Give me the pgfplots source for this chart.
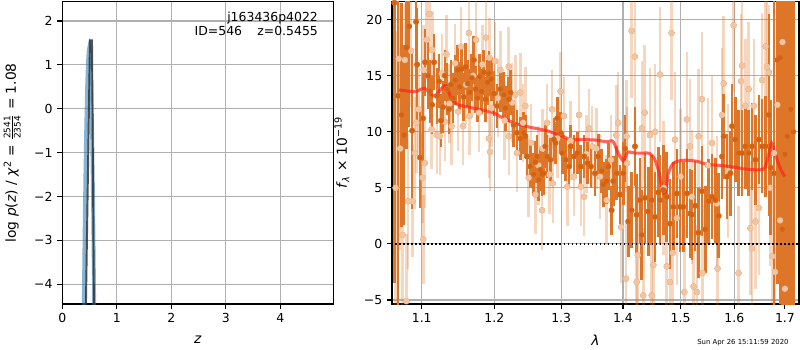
\documentclass[border=0pt]{standalone}
\usepackage{fontspec}
\setmainfont{DejaVu Sans}
\usepackage{pgfplots}
\usepackage{pgfplotstable}
\pgfplotsset{compat=1.18}
\definecolor{dk}{RGB}{212,98,16}
\definecolor{dkbar}{RGB}{222,118,42}
\definecolor{lt}{RGB}{220,110,30}
\definecolor{ltmark}{RGB}{241,196,162}
\definecolor{gridc}{RGB}{176,176,176}
\definecolor{pzblue}{RGB}{31,119,180}
\definecolor{modelred}{RGB}{255,35,25}

\pgfplotstableread{
x y e
1.0645 21.5 25
1.0692 13.2 22
1.0740 11.5 10
1.0770 9.7 8
1.0800 17.5 9
1.0835 19.4 9
1.0874 10.1 7
1.0926 19.8 6
1.0939 16.0 5
1.0978 7.7 4.5
1.1017 11.2 4
1.1044 16.2 3
1.1083 15.0 3
1.1110 13.6 2.8
1.1137 12.4 2.6
1.1163 16.2 2.5
1.1203 13.2 2.5
1.1230 14.5 2.4
1.1257 11.0 2.4
1.1283 12.2 2.3
1.1310 15.0 2.3
1.1337 13.8 2.3
1.1365 12.0 2.2
1.1392 14.2 2.2
1.1420 13.0 2.2
1.1450 14.6 2.2
1.1485 15.5 2.2
1.1512 14.0 2.2
1.1540 15.6 2.2
1.1568 13.1 2.1
1.1596 15.8 2.1
1.1624 14.3 2.1
1.1652 13.5 2.1
1.1680 14.8 2.1
1.1708 16.4 2.1
1.1735 13.8 2.1
1.1760 13.0 2.1
1.1790 14.9 2.0
1.1818 13.6 2.0
1.1846 15.3 2.0
1.1875 12.9 2.0
1.1903 14.4 2.0
1.1922 15.2 2.0
1.1955 14.7 2.0
1.1993 13.4 2.0
1.2040 12.3 2.0
1.2087 13.8 2.0
1.2136 13.3 2.0
1.2159 12.1 2.0
1.2208 12.9 2.0
1.2232 13.5 2.0
1.2281 10.6 2.0
1.2330 9.9 2.0
1.2379 9.4 1.9
1.2430 9.9 1.9
1.2454 9.6 1.9
1.2479 7.8 1.9
1.2529 6.9 1.9
1.2580 6.2 1.9
1.2604 7.3 1.9
1.2630 7.8 1.9
1.2656 5.7 1.9
1.2680 6.6 1.9
1.2706 6.2 1.9
1.2732 6.3 1.9
1.2757 8.7 1.9
1.2783 7.8 1.9
1.2834 7.5 1.9
1.2887 9.3 1.9
1.2912 9.0 1.9
1.2939 11.2 1.9
1.2991 9.9 1.9
1.3018 8.1 1.9
1.3070 7.5 1.9
1.3123 6.9 1.9
1.3149 8.7 1.9
1.3203 7.8 1.9
1.3256 8.1 1.9
1.3309 6.9 1.9
1.3363 7.8 1.9
1.3418 7.2 1.9
1.3472 6.9 1.9
1.3538 6.3 2.0
1.3591 7.8 2.0
1.3647 6.5 2.0
1.3673 5.3 2.0
1.3729 5.6 2.0
1.3755 6.9 2.1
1.3811 3.0 2.2
1.3838 5.6 2.2
1.3894 6.3 2.4
1.3949 4.4 2.6
1.4006 6.3 2.8
1.4033 8.5 3.0
1.4089 2.0 3.2
1.4146 3.0 3.4
1.4204 8.7 3.5
1.4232 2.6 3.6
1.4288 3.9 3.8
1.4317 0.8 4.0
1.4374 4.1 4.0
1.4432 2.9 4.0
1.4490 3.9 4.0
1.4548 2.4 4.0
1.4606 4.6 4.0
1.4636 3.9 4.0
1.4694 4.8 4.0
1.4754 4.2 4.0
1.4813 1.8 4.0
1.4872 3.3 4.0
1.4933 4.5 4.0
1.4993 3.3 4.0
1.5052 3.3 4.0
1.5114 4.5 4.0
1.5174 2.7 4.0
1.5205 2.6 4.0
1.5266 3.4 4.0
1.5327 1.0 4.0
1.5389 4.7 4.0
1.5451 1.3 3.9
1.5513 3.8 3.8
1.5576 4.2 3.8
1.5639 3.9 3.8
1.5701 2.5 3.8
1.5765 7.8 3.8
1.5796 9.6 3.8
1.5860 6.0 3.8
1.5923 6.3 3.8
1.5955 10.5 3.8
1.6019 9.3 3.8
1.6083 8.1 3.8
1.6148 8.1 3.8
1.6213 8.7 3.8
1.6277 8.1 3.8
1.6344 8.7 3.9
1.6410 7.5 4.0
1.6476 9.3 4.0
1.6542 8.7 4.2
1.6609 8.7 4.5
1.6676 11.5 9
1.6710 6.8 6
1.6778 6.3 20
1.6846 16.4 20
1.6900 16.6 22
1.6948 1.3 22
1.7000 8.0 25
1.7051 9.6 25
1.7118 12.0 25
1.7170 10.0 25
}\darkdata

\pgfplotstableread{
x y e
1.0660 5.0 14
1.0700 16.5 8
1.0720 8.5 9
1.0750 0.8 7
1.0780 16.4 5
1.0800 -5.1 6
1.0820 3.8 6
1.0860 17.2 5
1.0880 3.8 5
1.0910 8.1 5
1.0930 10.8 4.5
1.0960 12.0 4
1.1010 5.9 4
1.1020 0.4 4
1.1025 15.5 4
1.1040 7.2 4
1.1066 18.2 3.5
1.1100 20.5 3.5
1.1130 10.2 3.5
1.1140 17.3 3.5
1.1200 9.7 3.5
1.1240 9.6 3.5
1.1270 15.2 3.5
1.1310 10.9 3.5
1.1330 16.9 3.5
1.1370 12.5 3.5
1.1400 10.5 3.5
1.1450 16.1 3.5
1.1490 11.8 3.5
1.1530 17.6 3.5
1.1560 10.5 3.5
1.1600 14.2 3.5
1.1640 18.8 3.5
1.1650 11.4 3.5
1.1700 15.0 3.5
1.1740 18.2 3.5
1.1780 11.7 3.5
1.1830 16.0 3.5
1.1880 18.4 3.5
1.1920 9.4 3.5
1.1930 16.6 3.5
1.1940 8.2 3.5
1.1960 12.1 3.5
1.2010 16.3 3.5
1.2050 13.0 3.5
1.2087 15.5 3.5
1.2150 11.0 3.5
1.2208 15.8 3.5
1.2210 9.6 3.5
1.2260 12.6 3.5
1.2305 13.3 3.5
1.2330 8.1 3.5
1.2379 13.5 3.5
1.2420 10.8 3.5
1.2454 12.3 3.5
1.2504 5.9 3.5
1.2540 9.0 3.5
1.2605 4.4 3.5
1.2650 7.0 3.5
1.2706 3.0 3.5
1.2710 8.5 3.5
1.2783 10.8 3.5
1.2820 6.2 3.5
1.2860 12.0 3.5
1.2870 5.4 3.5
1.2940 9.4 3.5
1.2991 13.6 3.5
1.3044 11.4 3.5
1.3096 5.1 3.5
1.3150 9.2 3.5
1.3200 6.0 3.5
1.3283 11.5 3.5
1.3310 5.1 3.5
1.3363 4.2 3.5
1.3400 8.0 3.5
1.3445 10.3 3.5
1.3490 8.7 3.6
1.3560 8.5 3.6
1.3620 6.0 3.8
1.3730 3.9 4
1.3800 7.5 4
1.3890 9.7 4.5
1.3920 10.8 4.5
1.3970 1.5 5
1.4050 -3.1 5
1.4060 9.6 5
1.4070 7.2 5
1.4146 19.0 6
1.4200 16.7 6
1.4232 -3.4 6
1.4250 -1.0 6
1.4320 10.3 6
1.4345 -4.6 6
1.4370 11.7 6
1.4460 9.7 6
1.4490 -4.6 6
1.4520 -1.9 6
1.4550 10.0 6
1.4636 15.1 6
1.4700 5.0 6
1.4754 -2.0 6
1.4810 -3.4 6
1.4840 18.8 6
1.4860 -0.8 6
1.4900 9.3 6
1.4933 2.3 6
1.5000 6.0 6
1.5070 -4.3 6
1.5114 11.1 6
1.5170 8.7 6
1.5205 4.2 6
1.5235 -3.8 6
1.5300 -4.3 6
1.5330 9.6 6
1.5389 12.9 6
1.5400 -2.6 6
1.5500 7.0 6
1.5576 9.0 6
1.5670 3.6 6
1.5680 -2.2 6
1.5765 11.5 6
1.5796 14.3 6
1.5880 6.5 6
1.5986 19.5 6
1.6080 -2.6 6
1.6130 14.5 6
1.6148 15.9 6
1.6213 12.3 6
1.6277 13.8 6
1.6310 1.4 6
1.6340 -0.4 6
1.6377 12.3 6
1.6410 2.0 6
1.6476 3.2 6
1.6542 14.6 6
1.6609 17.6 6
1.6640 15.8 6
1.6676 15.3 6
1.6700 5.0 7
1.6744 -1.1 8
1.6780 8.1 8
1.6800 -2.5 9
1.6846 12.4 9
1.6900 2.1 10
1.6950 18.0 12
1.7000 -4.0 12
}\lightdata

\pgfplotstableread{
x y
1.0700 13.7
1.0740 13.7
1.0850 13.6
1.0934 13.6
1.0990 13.8
1.1044 13.85
1.1100 13.5
1.1154 13.2
1.1200 13.3
1.1244 13.7
1.1300 14.1
1.1325 14.1
1.1350 13.8
1.1380 13.2
1.1430 12.7
1.1493 12.4
1.1600 12.25
1.1701 12.1
1.1850 11.9
1.1985 11.7
1.2100 11.3
1.2179 11.1
1.2271 10.8
1.2400 10.6
1.2524 10.4
1.2650 10.25
1.2778 10.1
1.2900 9.85
1.3029 9.6
1.3139 9.3
1.3350 9.3
1.3566 9.25
1.3730 9.1
1.3812 9.2
1.3860 8.9
1.3895 8.4
1.3950 7.8
1.4006 7.4
1.4050 7.9
1.4089 8.2
1.4204 8.1
1.4350 8.1
1.4460 8.06
1.4547 7.5
1.4610 6.5
1.4666 5.2
1.4722 4.4
1.4760 5.4
1.4782 6.3
1.4871 7.2
1.5000 7.42
1.5111 7.46
1.5293 7.37
1.5477 7.1
1.5700 7.0
1.5916 6.9
1.6171 6.7
1.6350 6.62
1.6498 6.6
1.6596 6.8
1.6663 7.8
1.6731 9.0
1.6797 8.1
1.6865 7.2
1.6930 6.5
1.7000 6.0
}\modeldata

\pgfplotsset{
  mpl/.style={
    scale only axis,
    anchor=south west,
    tick pos=left,
    tick align=outside,
    major tick length=3.5pt,
    every tick/.style={black, line width=0.8pt},
    axis line style={line width=0.8pt},
    grid=major,
    major grid style={gridc, line width=0.8pt},
    tick label style={font=\fontsize{9}{10}\selectfont},
    label style={font=\fontsize{10}{12}\selectfont},
  }
}

\begin{document}
\begin{tikzpicture}
\useasboundingbox (0,0) rectangle (578.16pt,252.95pt);

% ---------- left panel: p(z) ----------
\begin{axis}[mpl,
  at={(45.0pt,33.24pt)},
  width=195.9pt, height=218.5pt,
  xmin=0, xmax=4.97, ymin=-4.45, ymax=2.44,
  xtick={0,1,2,3,4}, xticklabels={0,1,2,3,4},
  ytick={-4,-3,-2,-1,0,1,2},
  yticklabels={−4,−3,−2,−1,0,1,2},
  xlabel={\textit{z}},
  ylabel={log \textit{p}(\textit{z}) / \textit{χ}\textsuperscript{2} = $\frac{\mbox{\fontsize{6.5}{7}\selectfont 2541}}{\mbox{\fontsize{6.5}{7}\selectfont 2354}}$ = 1.08},
  every axis x label/.style={at={(axis description cs:0.5,-0.119)}, anchor=center},
  every axis y label/.style={at={(axis description cs:-0.185,0.5)}, anchor=center, rotate=90},
]
\addplot[pzblue, opacity=0.55, line width=2.8pt] coordinates {
(0.385,-5.6) (0.395,-4.45) (0.41,-2.8) (0.425,-1.47) (0.44,-0.38) (0.455,0.46)
(0.47,1.03) (0.485,1.33) (0.495,1.39) (0.505,1.32) (0.52,0.94) (0.535,0.24)
(0.55,-0.79) (0.565,-2.14) (0.58,-3.82) (0.59,-5.12) (0.595,-5.8)};
\addplot[black!80, opacity=0.85, line width=1.4pt] coordinates {
(0.425,-5.2) (0.508,1.56) (0.545,1.56) (0.585,-5.2)};
\node[anchor=north east, align=right, inner sep=0pt, font=\fontsize{9}{10.5}\selectfont]
  at (rel axis cs:0.944,0.968) {j163436p4022\\ID=546\hspace{11pt}z=0.5455};
\end{axis}

% ---------- right panel: spectrum ----------
\begin{axis}[mpl,
  at={(283.3pt,33.24pt)},
  width=294.1pt, height=218.5pt,
  xmode=log,
  xmin=1.0615, xmax=1.7288, ymin=-5.36, ymax=21.6,
  xtick={1.1,1.2,1.3,1.4,1.5,1.6,1.7},
  xticklabels={1.1,1.2,1.3,1.4,1.5,1.6,1.7},
  minor xtick={},
  ytick={-5,0,5,10,15,20},
  yticklabels={−5,0,5,10,15,20},
  xlabel={\textit{λ}},
  ylabel={\textit{f}\textsubscript{\textit{λ}} × 10\textsuperscript{−19}},
  every axis x label/.style={at={(axis description cs:0.5,-0.119)}, anchor=center},
  every axis y label/.style={at={(axis description cs:-0.123,0.5)}, anchor=center, rotate=90},
]
% light series: error bars, then markers
\addplot[lt, only marks, mark=none,
  error bars/.cd, y dir=both, y explicit,
  error bar style={draw=lt, line width=1.8pt, draw opacity=0.28}, error mark=none]
  table[x=x, y=y, y error=e] {\lightdata};
\addplot[ltmark, only marks, mark=*, mark size=2.2pt,
  mark options={draw=ltmark, fill=ltmark, line width=0.1pt}]
  table[x=x, y=y] {\lightdata};
% dark series: error bars, then markers
\addplot[dkbar, only marks, mark=none,
  error bars/.cd, y dir=both, y explicit,
  error bar style={draw=dkbar, line width=1.9pt}, error mark=none]
  table[x=x, y=y, y error=e] {\darkdata};
\addplot[dk, only marks, mark=*, mark size=1.7pt,
  mark options={draw=dk, fill=dk, line width=0.1pt}]
  table[x=x, y=y] {\darkdata};
\addplot[modelred, opacity=0.7, line width=2.2pt, smooth] table[x=x, y=y] {\modeldata};
\addplot[black, line width=1.2pt, dash pattern=on 1.2pt off 1.7pt] coordinates {(1.05,0) (1.75,0)};
\end{axis}

\node[anchor=base west, inner sep=0pt, font=\fontsize{5}{6}\selectfont] at (503.7pt,4.3pt) {Sun Apr 26 15:11:59 2020};
\end{tikzpicture}
\end{document}
